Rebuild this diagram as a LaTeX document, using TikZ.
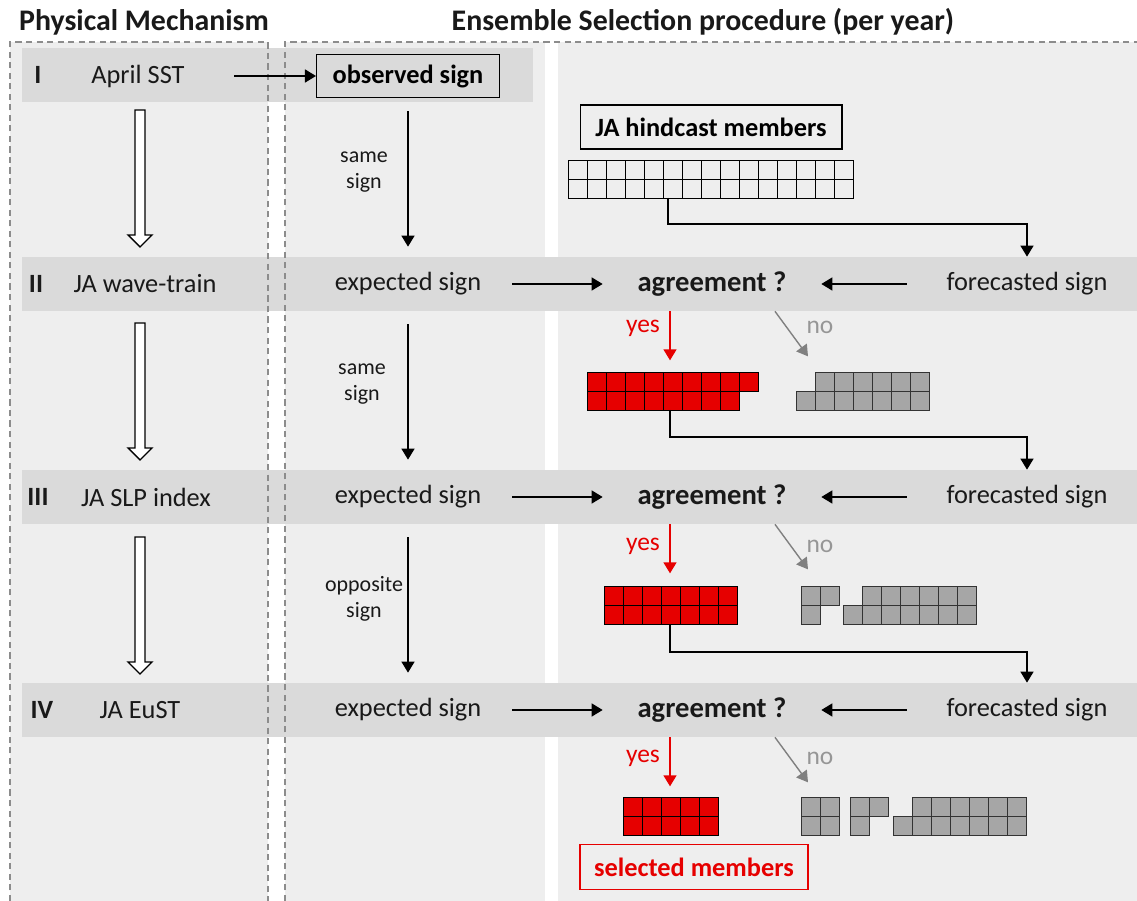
\documentclass[tikz,border=0pt]{standalone}
\usepackage{fontspec}
\setmainfont{Carlito}
\usetikzlibrary{arrows.meta,positioning}
\definecolor{PanelGray}{RGB}{238,238,238}
\definecolor{BandGray}{RGB}{218,218,218}
\definecolor{DashGray}{RGB}{140,140,140}
\definecolor{SelRed}{RGB}{230,0,0}
\definecolor{RejGray}{RGB}{166,166,166}
\definecolor{NoGray}{RGB}{128,128,128}
\definecolor{NoText}{RGB}{150,150,150}
\tikzset{
  hdr/.style={font=\fontsize{17}{20}\selectfont\bfseries, text=black!90},
  num/.style={font=\fontsize{15}{18}\selectfont\bfseries, text=black!90},
  lbl/.style={font=\fontsize{15}{18}\selectfont, text=black!90, inner sep=0pt,
              minimum height=1.08cm},
  agr/.style={lbl, font=\fontsize{16.3}{19}\selectfont\bfseries, minimum width=4.36cm},
  boxed/.style={draw, line width=0.6pt, font=\fontsize{15}{18}\selectfont\bfseries,
                inner sep=0pt, minimum height=0.86cm},
  note/.style={font=\fontsize{12.5}{15}\selectfont, align=center, text=black!90},
  yn/.style={font=\fontsize{14.5}{17}\selectfont},
  arr/.style={-{Triangle[length=2.2mm,width=2.6mm]}, line width=0.8pt},
  vdn/.style={arr, shorten <=0.26cm, shorten >=0.2cm},
  yesarr/.style={arr, color=SelRed},
  noarr/.style={arr, color=NoGray},
  hc/.style={draw=black, line width=0.5pt},
  rc/.style={draw=black, line width=0.5pt, fill=SelRed},
  gc/.style={draw=black!80, line width=0.5pt, fill=RejGray},
  hollow/.pic={\draw[line width=0.8pt, fill=white] (-5,0) -- (-5,125) -- (-12,125)
               -- (0,137) -- (12,125) -- (5,125) -- (5,0) -- cycle;}
}
\newcommand\cellrow[4]{\foreach \k in {1,...,#3}{\draw[#4] ({#1+19*(\k-1)},#2) rectangle ++(19,19);}}

\begin{document}
\begin{tikzpicture}[x=0.02cm, y=-0.02cm]
\useasboundingbox (0,0) rectangle (1137,901);
\fill[PanelGray] (10,42) rectangle (268,901);
\fill[PanelGray] (285,42) rectangle (545,901);
\fill[PanelGray] (558,42) rectangle (1137,901);
\fill[BandGray] (22,48) rectangle (533,102);
\foreach \yb in {257,470,683} \fill[BandGray] (22,\yb) rectangle ({1137},{\yb+54});
\draw[DashGray, line width=0.6pt, dash pattern=on 3.5pt off 2.5pt] (10,901) -- (10,42) -- (268,42) -- (268,901);
\draw[DashGray, line width=0.6pt, dash pattern=on 3.5pt off 2.5pt] (285,901) -- (285,42) -- (1137,42);

\node[hdr] (hphys) at (144,22) {Physical Mechanism};
\node[hdr] (hens) at (703,22) {Ensemble Selection procedure (per year)};

\node[num] (n1) at (38,75) {I};
\node[lbl, minimum width=3.84cm] (m1) at (138,76) {April SST};
\node[boxed, minimum width=3.66cm] (obs) at (408,76) {observed sign};
\draw[arr] (m1.east) -- (obs.west);

\node[num] (n2) at (36,284) {II};
\node[lbl] (m2) at (145,284) {JA wave-train};
\node[lbl, minimum width=4.16cm] (e2) at (408,284) {expected sign};
\node[agr] (a2) at (712,284) {agreement ?};
\node[lbl, minimum width=4.8cm] (f2) at (1027,284) {forecasted sign};

\node[num] (n3) at (38,497) {III};
\node[lbl] (m3) at (146,497) {JA SLP index};
\node[lbl, minimum width=4.16cm] (e3) at (408,497) {expected sign};
\node[agr] (a3) at (712,497) {agreement ?};
\node[lbl, minimum width=4.8cm] (f3) at (1027,497) {forecasted sign};

\node[num] (n4) at (42,710) {IV};
\node[lbl] (m4) at (140,710) {JA EuST};
\node[lbl, minimum width=4.16cm] (e4) at (408,710) {expected sign};
\node[agr] (a4) at (712,710) {agreement ?};
\node[lbl, minimum width=4.8cm] (f4) at (1027,710) {forecasted sign};

\pic at (140,110) {hollow};
\pic at (140,323) {hollow};
\pic at (140,537) {hollow};

\draw[vdn] (obs) -- (e2);
\draw[vdn] (e2) -- (e3);
\draw[vdn] (e3) -- (e4);
\node[note] (s1) at (364,172) {same\\sign};
\node[note] (s2) at (362,384) {same\\sign};
\node[note] (s3) at (364,599) {opposite\\sign};

\foreach \r in {2,3,4}{
  \draw[arr] (e\r) -- (a\r);
  \draw[arr] (f\r) -- (a\r);
  \draw[yesarr] ([xshift=-0.84cm]a\r.south) -- ++(0,49);
  \draw[noarr] ([xshift=1.26cm]a\r.south) -- ++(33,45);
}
\node[yn, text=SelRed] (y2) at (643,328) {yes};
\node[yn, text=NoText] (no2) at (820,327) {no};
\node[yn, text=SelRed] (y3) at (643,546) {yes};
\node[yn, text=NoText] (no3) at (820,546) {no};
\node[yn, text=SelRed] (y4) at (643,758) {yes};
\node[yn, text=NoText] (no4) at (820,758) {no};

\node[boxed, minimum width=5.24cm, minimum height=0.88cm] (hind) at (711,127) {JA hindcast members};
\cellrow{568}{160}{15}{hc}
\cellrow{568}{179}{15}{hc}
\coordinate (g1) at (668,198);
\draw[arr] (g1) -- ++(0,26) -| (f2.north);

\cellrow{587}{372}{9}{rc}
\cellrow{587}{391}{8}{rc}
\cellrow{815}{372}{6}{gc}
\cellrow{796}{391}{7}{gc}
\coordinate (g2) at (670,410);
\draw[arr] (g2) -- ++(0,27) -| (f3.north);

\cellrow{604}{586}{7}{rc}
\cellrow{604}{605}{7}{rc}
\cellrow{801}{586}{2}{gc}
\cellrow{801}{605}{1}{gc}
\cellrow{862}{586}{6}{gc}
\cellrow{843}{605}{7}{gc}
\coordinate (g3) at (670,625);
\draw[arr] (g3) -- ++(0,27) -| (f4.north);

\cellrow{623}{797}{5}{rc}
\cellrow{623}{816}{5}{rc}
\cellrow{801}{797}{2}{gc}
\cellrow{801}{816}{2}{gc}
\cellrow{850}{797}{2}{gc}
\cellrow{850}{816}{1}{gc}
\cellrow{912}{797}{6}{gc}
\cellrow{893}{816}{7}{gc}
\node[boxed, draw=SelRed, text=SelRed, minimum width=4.56cm, minimum height=0.9cm] (sel) at (694,867) {selected members};
\end{tikzpicture}
\end{document}
